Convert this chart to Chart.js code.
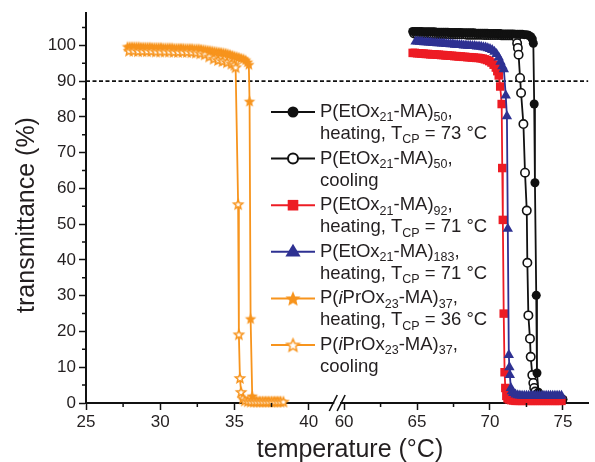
<!DOCTYPE html>
<html>
<head>
<meta charset="utf-8">
<script src="https://cdn.jsdelivr.net/npm/chart.js@4.4.0/dist/chart.umd.min.js"></script>
<style>
  html, body { margin: 0; padding: 0; background: #fff; }
</style>
</head>
<body>
<canvas id="chart" width="595" height="462"></canvas>
<script>
// temperature axis is broken between 40 and 60 °C
const xMajorTicks = [25, 30, 35, 40, 60, 65, 70, 75];
const xMinorTicks = [27.5, 32.5, 37.5, 62.5, 67.5, 72.5];
const yMajorTicks = [0, 10, 20, 30, 40, 50, 60, 70, 80, 90, 100];
const yMinorTicks = [5, 15, 25, 35, 45, 55, 65, 75, 85, 95, 105];
const thresholdLevel = 90;
const xTitle = 'temperature (°C)';
const yTitle = 'transmittance (%)';

// P(EtOx21-MA)50 heating
const ea50HeatT = [64.7, 64.85, 65.0, 65.15, 65.3, 65.45, 65.6, 65.75, 65.9, 66.05, 66.2, 66.35, 66.5, 66.65, 66.8, 66.95, 67.1, 67.25, 67.4, 67.55,
  67.7, 67.85, 68.0, 68.15, 68.3, 68.45, 68.6, 68.75, 68.9, 69.05, 69.2, 69.35, 69.5, 69.65, 69.8, 69.95, 70.1, 70.25, 70.4, 70.55,
  70.7, 70.85, 71.0, 71.15, 71.3, 71.45, 71.6, 71.75, 71.9, 72.05, 72.2, 72.35, 72.5,
  72.65, 72.8, 72.9, 72.97, 73.03, 73.08, 73.17, 73.22, 73.32, 73.42,
  73.5, 73.65, 73.8, 73.95, 74.1, 74.25, 74.4, 74.55, 74.7, 74.85, 75.0];
const ea50HeatTr = [103.9, 103.9, 103.9, 103.9, 103.9, 103.8, 103.8, 103.8, 103.8, 103.8, 103.8, 103.7, 103.7, 103.7, 103.7, 103.7, 103.7, 103.6, 103.6, 103.6,
  103.6, 103.6, 103.6, 103.5, 103.5, 103.5, 103.5, 103.5, 103.5, 103.4, 103.4, 103.4, 103.4, 103.4, 103.4, 103.3, 103.3, 103.3, 103.3, 103.3,
  103.3, 103.2, 103.2, 103.2, 103.2, 103.2, 103.2, 103.1, 103.1, 103.1, 103.1, 103.0, 103.0,
  102.8, 102.4, 101.8, 100.6, 83.6, 61.6, 30.1, 8.4, 3.0, 1.9,
  1.6, 1.3, 1.2, 1.1, 1.0, 1.0, 1.0, 1.0, 1.0, 1.0, 1.0];

// P(EtOx21-MA)50 cooling
const ea50CoolT = [64.8, 64.95, 65.1, 65.25, 65.4, 65.55, 65.7, 65.85, 66.0, 66.15, 66.3, 66.45, 66.6, 66.75, 66.9, 67.05, 67.2, 67.35, 67.5, 67.65,
  67.8, 67.95, 68.1, 68.25, 68.4, 68.55, 68.7, 68.85, 69.0, 69.15, 69.3, 69.45, 69.6, 69.75, 69.9, 70.05, 70.2, 70.35, 70.5, 70.65,
  70.8, 70.95, 71.1, 71.25, 71.4, 71.55, 71.7,
  71.8, 71.86, 71.91, 71.96, 72.06, 72.13, 72.29, 72.4, 72.52, 72.56, 72.63, 72.74, 72.79, 72.9, 72.97, 73.03, 73.1, 73.2, 73.3, 73.45, 73.6, 73.75,
  73.9, 74.05, 74.2, 74.35, 74.5, 74.65, 74.8, 74.95];
const ea50CoolTr = [103.3, 103.3, 103.3, 103.3, 103.3, 103.3, 103.3, 103.3, 103.2, 103.2, 103.2, 103.2, 103.2, 103.2, 103.2, 103.2, 103.1, 103.1, 103.1, 103.1,
  103.1, 103.1, 103.1, 103.1, 103.0, 103.0, 103.0, 103.0, 103.0, 103.0, 103.0, 103.0, 102.9, 102.9, 102.9, 102.9, 102.9, 102.9, 102.9, 102.9,
  102.8, 102.8, 102.8, 102.8, 102.8, 102.8, 102.8,
  102.2, 100.6, 99.3, 97.4, 90.9, 86.7, 78.0, 64.4, 53.8, 39.2, 24.5, 18.0, 12.9, 7.8, 5.6, 4.2, 3.2, 2.4, 1.8, 1.4, 1.2, 1.1,
  1.0, 1.0, 1.0, 1.0, 1.0, 1.0, 1.0, 1.0];

// P(EtOx21-MA)92 heating
const ea92HeatT = [64.7, 64.85, 65.0, 65.15, 65.3, 65.45, 65.6, 65.75, 65.9, 66.05, 66.2, 66.35, 66.5, 66.65, 66.8, 66.95, 67.1, 67.25, 67.4, 67.55,
  67.7, 67.85, 68.0, 68.15, 68.3, 68.45, 68.6, 68.75, 68.9, 69.05, 69.2, 69.35, 69.5, 69.65, 69.8, 69.95, 70.1, 70.25,
  70.4, 70.5, 70.6, 70.7, 70.8, 70.84, 70.88, 70.94, 71.0, 71.05, 71.12, 71.2, 71.3, 71.45,
  71.6, 71.75, 71.9, 72.05, 72.2, 72.35, 72.5, 72.65, 72.8, 72.95, 73.1, 73.25, 73.4, 73.55, 73.7, 73.85, 74.0, 74.15, 74.3, 74.45, 74.6, 74.75, 74.9];
const ea92HeatTr = [97.9, 97.9, 97.8, 97.8, 97.7, 97.7, 97.6, 97.6, 97.5, 97.5, 97.5, 97.4, 97.4, 97.3, 97.3, 97.2, 97.2, 97.1, 97.1, 97.0,
  97.0, 96.9, 96.9, 96.8, 96.8, 96.7, 96.7, 96.6, 96.6, 96.5, 96.5, 96.4, 96.3, 96.1, 95.9, 95.6, 95.2, 94.6,
  93.8, 92.8, 91.6, 88.5, 83.6, 65.7, 51.2, 25.0, 8.6, 4.2, 2.0, 1.3, 1.0, 0.8,
  0.7, 0.6, 0.6, 0.6, 0.6, 0.6, 0.6, 0.6, 0.6, 0.6, 0.6, 0.6, 0.6, 0.6, 0.6, 0.6, 0.6, 0.6, 0.6, 0.6, 0.6, 0.6, 0.6];

// P(EtOx21-MA)183 heating
const ea183HeatT = [64.9, 65.05, 65.2, 65.35, 65.5, 65.65, 65.8, 65.95, 66.1, 66.25, 66.4, 66.55, 66.7, 66.85, 67.0, 67.15, 67.3, 67.45, 67.6, 67.75,
  67.9, 68.05, 68.2, 68.35, 68.5, 68.65, 68.8, 68.95, 69.1, 69.25, 69.4, 69.55, 69.7, 69.85, 70.0, 70.15, 70.3,
  70.45, 70.6, 70.72, 70.85, 70.95, 71.08, 71.16, 71.22, 71.29, 71.33, 71.36, 71.43, 71.5, 71.6, 71.75, 71.9,
  72.05, 72.2, 72.35, 72.5, 72.65, 72.8, 72.95, 73.1, 73.25, 73.4, 73.55, 73.7, 73.85, 74.0, 74.15, 74.3, 74.45, 74.6, 74.75, 74.9];
const ea183HeatTr = [101.1, 101.1, 101.0, 101.0, 100.9, 100.9, 100.8, 100.8, 100.7, 100.7, 100.6, 100.6, 100.5, 100.5, 100.4, 100.4, 100.3, 100.3, 100.2, 100.2,
  100.1, 100.1, 100.0, 100.0, 99.9, 99.9, 99.8, 99.8, 99.7, 99.7, 99.6, 99.5, 99.4, 99.2, 99.0, 98.7, 98.2,
  97.6, 96.6, 95.4, 94.2, 93.3, 86.0, 80.2, 48.7, 13.4, 10.0, 7.8, 4.2, 3.3, 2.8, 2.4, 2.2,
  2.1, 2.0, 2.0, 2.0, 2.0, 2.0, 2.0, 2.0, 2.0, 2.0, 2.0, 2.0, 2.0, 2.0, 2.0, 2.0, 2.0, 2.0, 2.0, 2.0];

// P(iPrOx23-MA)37 heating
const ip37HeatT = [27.8, 27.95, 28.1, 28.25, 28.4, 28.55, 28.7, 28.85, 29.0, 29.15, 29.3, 29.45, 29.6, 29.75, 29.9, 30.05, 30.2, 30.35, 30.5, 30.65,
  30.8, 30.95, 31.1, 31.25, 31.4, 31.55, 31.7, 31.85, 32.0, 32.15, 32.3, 32.45, 32.6, 32.75, 32.9, 33.05, 33.2, 33.35, 33.5, 33.65,
  33.8, 33.95, 34.1, 34.25, 34.4, 34.55, 34.7, 34.85, 35.0, 35.15, 35.3, 35.45, 35.6,
  35.75, 35.88, 35.97, 36.02, 36.09, 36.2, 36.3, 36.45,
  36.6, 36.75, 36.9, 37.05, 37.2, 37.35, 37.5, 37.65, 37.8, 37.95, 38.1];
const ip37HeatTr = [99.7, 99.7, 99.7, 99.7, 99.7, 99.7, 99.6, 99.6, 99.6, 99.6, 99.6, 99.5, 99.5, 99.5, 99.5, 99.5, 99.4, 99.4, 99.4, 99.4,
  99.4, 99.3, 99.3, 99.3, 99.3, 99.3, 99.2, 99.2, 99.2, 99.2, 99.1, 99.1, 99.1, 99.0, 98.9, 98.8, 98.7, 98.6, 98.5, 98.4,
  98.3, 98.2, 98.1, 98.0, 97.9, 97.7, 97.5, 97.3, 97.1, 96.9, 96.7, 96.5, 96.3,
  96.0, 95.4, 94.7, 84.4, 23.6, 2.0, 0.8, 0.6,
  0.5, 0.5, 0.5, 0.5, 0.5, 0.5, 0.5, 0.5, 0.5, 0.5, 0.5];

// P(iPrOx23-MA)37 cooling
const ip37CoolT = [27.9, 28.2, 28.5, 28.8, 29.1, 29.4, 29.7, 30.0, 30.3, 30.6, 30.9, 31.2, 31.5, 31.8, 32.1, 32.4, 32.7, 33.0, 33.3, 33.6, 33.9, 34.2, 34.5, 34.8,
  35.0, 35.08, 35.25, 35.3, 35.37, 35.45, 35.57, 35.7, 35.9, 36.1, 36.3, 36.5, 36.7, 36.9, 37.1, 37.3, 37.5, 37.7, 37.9, 38.1, 38.3];
const ip37CoolTr = [98.5, 98.5, 98.4, 98.4, 98.4, 98.4, 98.3, 98.3, 98.3, 98.3, 98.2, 98.2, 98.2, 98.2, 98.1, 98.0, 97.8, 97.5, 96.9, 96.3, 95.9, 95.6, 95.3, 94.9,
  94.6, 93.9, 55.6, 19.2, 7.0, 3.1, 1.3, 0.7, 0.5, 0.4, 0.4, 0.4, 0.4, 0.4, 0.4, 0.4, 0.4, 0.4, 0.4, 0.4, 0.4];

const seriesNames = [
  ['P(EtOx_{21}-MA)_{50},', 'heating, T_{CP} = 73 °C'],
  ['P(EtOx_{21}-MA)_{50},', 'cooling'],
  ['P(EtOx_{21}-MA)_{92},', 'heating, T_{CP} = 71 °C'],
  ['P(EtOx_{21}-MA)_{183},', 'heating, T_{CP} = 71 °C'],
  ['P(*i*PrOx_{23}-MA)_{37},', 'heating, T_{CP} = 36 °C'],
  ['P(*i*PrOx_{23}-MA)_{37},', 'cooling'],
];

const BLACK = '#111111';
const RED = '#ed1c24';
const BLUE = '#2e3192';
const ORANGE = '#f7941d';
const TEXT = '#231f20';
const FONT = '"Liberation Sans", Arial, sans-serif';

// map real temperature onto the broken axis
const BREAK_AT = 42.39;
const RIGHT_SCALE = 0.983;
function toAxis(t) {
  return t >= 50 ? BREAK_AT + (t - 60) * RIGHT_SCALE : t;
}
function pairs(xs, ys) {
  return xs.map((t, i) => ({ x: toAxis(t), y: ys[i] }));
}

function starImage(r, fill, stroke, lw) {
  const size = Math.ceil(2 * r + lw + 2);
  const c = document.createElement('canvas');
  c.width = size; c.height = size;
  const g = c.getContext('2d');
  const cx = size / 2, cy = size / 2 + r * 0.1;
  g.beginPath();
  for (let k = 0; k < 10; k++) {
    const rad = k % 2 ? r * 0.45 : r;
    const a = -Math.PI / 2 + k * Math.PI / 5;
    const px = cx + rad * Math.cos(a), py = cy + rad * Math.sin(a);
    if (k === 0) g.moveTo(px, py); else g.lineTo(px, py);
  }
  g.closePath();
  g.fillStyle = fill;
  g.fill();
  if (lw > 0) {
    g.lineWidth = lw;
    g.strokeStyle = stroke;
    g.lineJoin = 'miter';
    g.stroke();
  }
  return c;
}

const starFull = starImage(6, ORANGE, ORANGE, 0);
const starOpen = starImage(4.8, '#ffffff', ORANGE, 1.5);
const starFullBig = starImage(8, ORANGE, ORANGE, 0);
const starOpenBig = starImage(6.5, '#ffffff', ORANGE, 1.5);

const xMin = 25, xMax = 58.85;
const yMin = 0, yMax = 109;

const series = [
  { name: seriesNames[0], xs: ea50HeatT, ys: ea50HeatTr, color: BLACK, style: 'circle', fill: BLACK, r: 4.5, order: 4, legendR: 5.5 },
  { name: seriesNames[1], xs: ea50CoolT, ys: ea50CoolTr, color: BLACK, style: 'circle', fill: '#ffffff', r: 4.2, order: 5, legendR: 5 },
  { name: seriesNames[2], xs: ea92HeatT, ys: ea92HeatTr, color: RED, style: 'rect', fill: RED, r: 6, order: 3, legendR: 7.5 },
  { name: seriesNames[3], xs: ea183HeatT, ys: ea183HeatTr, color: BLUE, style: 'triangle', fill: BLUE, r: 6, order: 2, legendR: 8 },
  { name: seriesNames[4], xs: ip37HeatT, ys: ip37HeatTr, color: ORANGE, style: starFull, fill: ORANGE, r: 6, order: 1, legendStyle: starFullBig },
  { name: seriesNames[5], xs: ip37CoolT, ys: ip37CoolTr, color: ORANGE, style: starOpen, fill: '#ffffff', r: 5, order: 0, legendStyle: starOpenBig },
];

const datasets = series.map(s => ({
  data: pairs(s.xs, s.ys),
  showLine: true,
  borderColor: s.color,
  borderWidth: 1.8,
  pointStyle: s.style,
  pointRadius: s.r,
  pointBackgroundColor: s.fill,
  pointBorderColor: s.color,
  pointBorderWidth: s.fill === '#ffffff' ? 1.6 : 0,
  tension: 0,
  clip: false,
  order: s.order,
}));

datasets.push({
  data: [{ x: xMin, y: thresholdLevel }, { x: xMax, y: thresholdLevel }],
  showLine: true,
  borderColor: BLACK,
  borderWidth: 1.6,
  borderDash: [4, 2.5],
  pointRadius: 0,
  order: 10,
});

// minor ticks, axis break and the axis titles
const axisExtras = {
  id: 'axisExtras',
  afterDatasetsDraw(chart) {
    const ctx = chart.ctx;
    const xs = chart.scales.x, ys = chart.scales.y;
    const base = ys.getPixelForValue(yMin);
    const left = xs.left;
    ctx.save();
    ctx.strokeStyle = BLACK;
    ctx.lineWidth = 1.5;
    ctx.beginPath();
    xMinorTicks.forEach(t => {
      const px = xs.getPixelForValue(toAxis(t));
      ctx.moveTo(px, base); ctx.lineTo(px, base + 4);
    });
    yMinorTicks.forEach(v => {
      const py = ys.getPixelForValue(v);
      ctx.moveTo(left, py); ctx.lineTo(left - 4, py);
    });
    ctx.stroke();

    // break marks
    const b1 = xs.getPixelForValue(41.66), b2 = xs.getPixelForValue(42.19);
    ctx.fillStyle = '#ffffff';
    ctx.fillRect(b1 + 1, base - 2, b2 - b1 - 2, 4);
    ctx.beginPath();
    [b1, b2].forEach(px => {
      ctx.moveTo(px - 4, base + 8);
      ctx.lineTo(px + 4, base - 8);
    });
    ctx.lineWidth = 1.6;
    ctx.stroke();

    // titles
    ctx.fillStyle = TEXT;
    ctx.font = '25px ' + FONT;
    ctx.textAlign = 'center';
    ctx.textBaseline = 'alphabetic';
    ctx.fillText(xTitle, 350, 457);
    ctx.translate(34, 215);
    ctx.rotate(-Math.PI / 2);
    ctx.fillText(yTitle, 0, 0);
    ctx.restore();
  }
};

function drawRich(ctx, text, x, y) {
  const parts = text.split(/(_\{[^}]*\}|\*[^*]*\*)/).filter(p => p.length);
  let cx = x;
  parts.forEach(p => {
    if (p.startsWith('_{')) {
      const s = p.slice(2, -1);
      ctx.font = '12.5px ' + FONT;
      ctx.fillText(s, cx, y + 6);
      cx += ctx.measureText(s).width;
    } else if (p.startsWith('*')) {
      const s = p.slice(1, -1);
      ctx.font = 'italic 18.5px ' + FONT;
      ctx.fillText(s, cx, y);
      cx += ctx.measureText(s).width;
    } else {
      ctx.font = '18.5px ' + FONT;
      ctx.fillText(p, cx, y);
      cx += ctx.measureText(p).width;
    }
  });
}

function drawMarker(ctx, s, x, y) {
  ctx.save();
  const style = s.legendStyle || s.style;
  if (typeof style !== 'string') {
    ctx.drawImage(style, x - style.width / 2, y - style.height / 2);
    ctx.restore();
    return;
  }
  const r = s.legendR;
  ctx.beginPath();
  if (style === 'circle') {
    ctx.arc(x, y, r, 0, Math.PI * 2);
  } else if (style === 'rect') {
    const h = r * Math.SQRT1_2;
    ctx.rect(x - h, y - h, 2 * h, 2 * h);
  } else if (style === 'triangle') {
    ctx.moveTo(x, y - r);
    ctx.lineTo(x + r * 0.95, y + r * 0.6);
    ctx.lineTo(x - r * 0.95, y + r * 0.6);
    ctx.closePath();
  }
  ctx.fillStyle = s.fill;
  ctx.fill();
  if (s.fill === '#ffffff') {
    ctx.lineWidth = 2;
    ctx.strokeStyle = s.color;
    ctx.stroke();
  }
  ctx.restore();
}

const richLegend = {
  id: 'richLegend',
  afterDraw(chart) {
    const ctx = chart.ctx;
    ctx.save();
    ctx.textBaseline = 'middle';
    ctx.textAlign = 'left';
    series.forEach((s, i) => {
      const y = 112 + i * 46.6;
      ctx.strokeStyle = s.color;
      ctx.lineWidth = 2;
      ctx.beginPath();
      ctx.moveTo(271, y); ctx.lineTo(315, y);
      ctx.stroke();
      drawMarker(ctx, s, 293, y);
      ctx.fillStyle = TEXT;
      drawRich(ctx, s.name[0], 320, y);
      drawRich(ctx, s.name[1], 320, y + 22);
    });
    ctx.restore();
  }
};

const ctx = document.getElementById('chart').getContext('2d');
new Chart(ctx, {
  type: 'scatter',
  data: { datasets: datasets },
  plugins: [axisExtras, richLegend],
  options: {
    responsive: false,
    animation: false,
    layout: { padding: { top: 12, right: 3, left: 0, bottom: 0 } },
    plugins: { legend: { display: false }, tooltip: { enabled: false } },
    scales: {
      x: {
        type: 'linear',
        min: xMin,
        max: xMax,
        afterBuildTicks: axis => { axis.ticks = xMajorTicks.map(t => ({ value: toAxis(t) })); },
        afterFit: axis => { axis.height = 59; },
        ticks: {
          callback: (v, i) => String(xMajorTicks[i]),
          color: TEXT,
          font: { family: FONT, size: 17 },
          padding: 2,
          maxRotation: 0,
          autoSkip: false,
        },
        grid: { display: true, drawOnChartArea: false, drawTicks: true, tickLength: 7, tickWidth: 1.5, tickColor: BLACK },
        border: { display: true, color: BLACK, width: 2 },
      },
      y: {
        min: yMin,
        max: yMax,
        afterBuildTicks: axis => { axis.ticks = yMajorTicks.map(v => ({ value: v })); },
        afterFit: axis => { axis.width = 86; },
        ticks: {
          color: TEXT,
          font: { family: FONT, size: 17 },
          padding: 3,
        },
        grid: { display: true, drawOnChartArea: false, drawTicks: true, tickLength: 7, tickWidth: 1.5, tickColor: BLACK },
        border: { display: true, color: BLACK, width: 2 },
      },
    },
  },
});
</script>
</body>
</html>
